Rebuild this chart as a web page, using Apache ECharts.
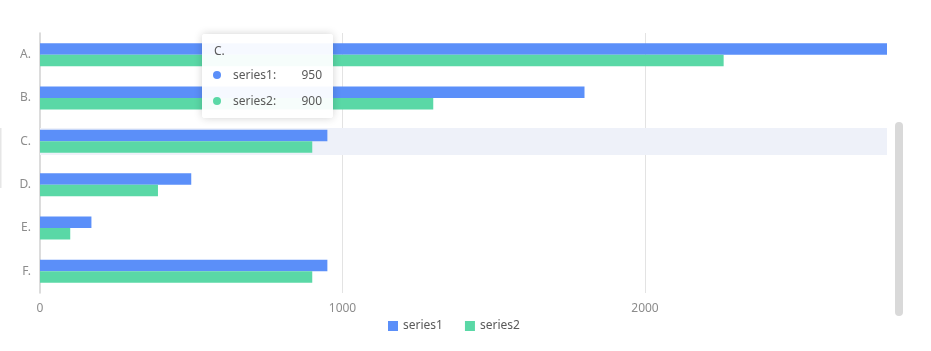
<!DOCTYPE html>
<html>
<head>
<meta charset="utf-8">
<title>bar</title>
<script src="https://cdn.jsdelivr.net/npm/echarts@6/dist/echarts.min.js"></script>
<style>
    html, body { margin: 0; padding: 0; background: #fff; }
    #main { width: 931px; height: 351px; }
</style>
</head>
<body>
<div id="main"></div>
<script>
    // 数据
    var categories = ['A.', 'B.', 'C.', 'D.', 'E.', 'F.'];
    var series1 = [2800, 1800, 950, 500, 170, 950];
    var series2 = [2260, 1300, 900, 390, 100, 900];
    var xTicks = [0, 1000, 2000];
    var seriesNames = ['series1', 'series2'];
    var colors = ['#5B8FF9', '#5AD8A6'];

    var chart = echarts.init(document.getElementById('main'), null, { renderer: 'canvas' });

    //提示框内容
    function tipHtml(params) {
        var html = '<div style="width:131px;padding:6px 0 4px 0;font-family:\'Noto Sans\',sans-serif;font-size:12px;color:#595959;">';
        html += '<div style="height:22px;line-height:22px;padding-left:12px;">' + params[0].name + '</div>';
        for (var i = 0; i < params.length; i++) {
            html += '<div style="height:26px;line-height:26px;padding:0 11px 0 11px;position:relative;">'
                + '<span style="display:inline-block;width:8px;height:8px;border-radius:4px;background:' + params[i].color + ';margin-right:12px;vertical-align:middle;position:relative;top:-1px;"></span>'
                + params[i].seriesName + ':'
                + '<span style="position:absolute;right:11px;">' + params[i].value + '</span></div>';
        }
        html += '</div>';
        return html;
    }

    var option = {
        animation: false,
        color: colors,
        textStyle: { fontFamily: 'Noto Sans, sans-serif' },
        grid: { left: 40, right: 44, top: 33, bottom: 58, containLabel: false },
        tooltip: {
            trigger: 'axis',
            position: [202, 34],
            padding: 0,
            borderWidth: 0,
            backgroundColor: 'rgba(255,255,255,0.95)',
            transitionDuration: 0,
            extraCssText: 'box-shadow:0 0 9px rgba(0,0,0,0.18);border-radius:3px;',
            axisPointer: {
                type: 'line',
                z: 1,
                lineStyle: { color: '#EEF1F9', width: 27, type: 'solid' }
            },
            formatter: tipHtml
        },
        legend: {
            top: 315,
            left: 383,
            icon: 'rect',
            itemWidth: 10,
            itemHeight: 10,
            itemGap: 22,
            data: seriesNames,
            textStyle: { color: '#595959', fontSize: 12 }
        },
        xAxis: {
            type: 'value',
            min: xTicks[0],
            max: 2800,
            interval: xTicks[1] - xTicks[0],
            axisLine: { show: false },
            axisTick: { show: false },
            axisLabel: {
                color: '#8c8c8c', fontSize: 12, margin: 10, showMaxLabel: false,
                formatter: function (v) { return String(v); }
            },
            splitLine: { lineStyle: { color: '#e3e3e3' }, showMaxLine: false, showMinLine: false }
        },
        yAxis: {
            type: 'category',
            inverse: true,
            data: categories,
            axisLine: { lineStyle: { color: '#d0d0d0', width: 1.5 } },
            axisTick: { alignWithLabel: true, length: 4, lineStyle: { color: '#d0d0d0' } },
            axisLabel: { color: '#8c8c8c', fontSize: 12, margin: 9 },
            splitLine: { show: false }
        },
        series: [
            {
                name: seriesNames[0],
                type: 'bar',
                data: series1,
                barGap: '0%',
                barCategoryGap: '47%',
                emphasis: { disabled: true },
                z: 3
            },
            {
                name: seriesNames[1],
                type: 'bar',
                data: series2,
                barGap: '0%',
                barCategoryGap: '47%',
                emphasis: { disabled: true },
                z: 3
            }
        ],
        graphic: [
            //右侧滚动条
            { type: 'rect', shape: { x: 895, y: 122, width: 8, height: 194, r: 4 }, style: { fill: '#d9d9d9' }, silent: true },
            //左侧细线
            { type: 'rect', shape: { x: 0, y: 128, width: 1.5, height: 60 }, style: { fill: '#e6e6e6' }, silent: true }
        ]
    };
    chart.setOption(option);

    // 显示C.的提示
    chart.dispatchAction({ type: 'showTip', seriesIndex: 0, dataIndex: 2 });
</script>
</body>
</html>
